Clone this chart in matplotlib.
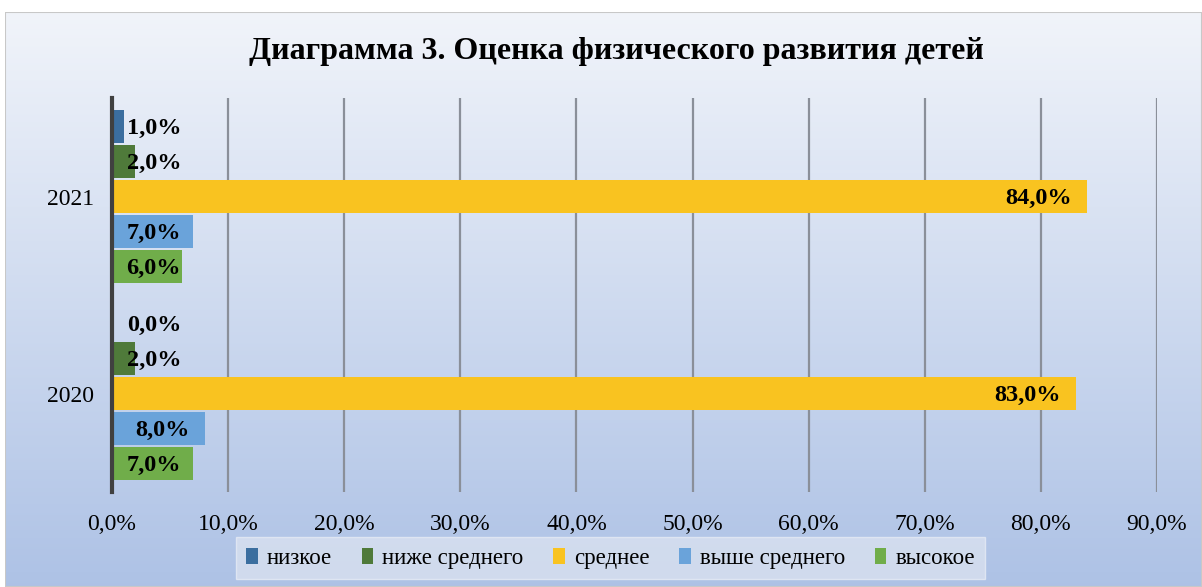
import numpy as np
import matplotlib.pyplot as plt
from matplotlib.patches import Rectangle

years = ["2020", "2021"]
series = ["низкое", "ниже среднего", "среднее", "выше среднего", "высокое"]
values = {
    "низкое": [0.0, 1.0],
    "ниже среднего": [2.0, 2.0],
    "среднее": [83.0, 84.0],
    "выше среднего": [8.0, 7.0],
    "высокое": [7.0, 6.0],
}
colors = ["#3b6e9f", "#4f7a3a", "#f9c320", "#6aa3da", "#70ad4a"]
xticks = [0, 10, 20, 30, 40, 50, 60, 70, 80, 90]

plt.rcParams['font.family'] = ['Liberation Serif', 'DejaVu Serif']

fig = plt.figure(figsize=(12.02, 5.87), dpi=100)

# chart area gradient background
bg = fig.add_axes([0.004, 0.0, 0.996, 0.98], zorder=-10)
grad = np.linspace(0, 1, 256).reshape(-1, 1)
c_top = np.array([0.945, 0.957, 0.98])
c_bot = np.array([0.68, 0.76, 0.90])
img = c_top + (c_bot - c_top) * grad[..., None]
bg.imshow(img, aspect='auto', extent=[0, 1, 0, 1], origin='upper')
bg.set_xlim(0, 1)
bg.set_ylim(0, 1)
bg.axis('off')
bg.add_patch(Rectangle((0, 0), 1, 1, fill=False, edgecolor="#c8c8c8", lw=1.5, transform=bg.transAxes))

ax = fig.add_axes([0.0932, 0.1618, 0.8694, 0.6712])
ax.set_facecolor('none')

y = np.arange(len(years))
h = 0.177
for i, s in enumerate(series):
    off = (2 - i) * h
    v = np.array(values[s]) / 100.0
    ax.barh(y + off, v, height=h * 0.95, color=colors[i], label=s, zorder=3)
    for yy, vv in zip(y + off, v):
        xt = max(vv - 0.013, 0.0595)
        ax.text(xt, yy - 0.01, f"{vv*100:.1f}%".replace('.', ','), ha='right', va='center',
                fontsize=17.5, fontweight='bold', zorder=4)

ax.set_xlim(0, 0.9)
ax.set_ylim(-0.5, 1.5)
ax.set_xticks([t / 100 for t in xticks])
ax.set_xticklabels([f"{t:.1f}%".replace('.', ',') for t in xticks], fontsize=17)
ax.set_yticks(y)
ax.set_yticklabels(years, fontsize=17)
ax.tick_params(length=0, pad=16)
ax.tick_params(axis='y', pad=13)
ax.grid(axis='x', color='#8a8f99', lw=1.6, zorder=1)
for sp in ['top', 'right', 'bottom']:
    ax.spines[sp].set_visible(False)
ax.spines['left'].set_color('#404040')
ax.spines['left'].set_linewidth(3)
ax.spines['left'].set_zorder(5)

fig.text(0.513, 0.912, "Диаграмма 3. Оценка физического развития детей",
         ha='center', va='center', fontsize=23, fontweight='bold')

leg = fig.legend(loc='center', bbox_to_anchor=(0.508, 0.049), ncol=5, frameon=True,
                 fontsize=16.5, handlelength=0.5, handleheight=0.7, handletextpad=0.4,
                 columnspacing=1.3, fancybox=False, borderpad=0.45)
leg.get_frame().set_facecolor('#d9e1f0')
leg.get_frame().set_edgecolor('#e6ebf5')

fig.savefig("out.png", dpi=100)
